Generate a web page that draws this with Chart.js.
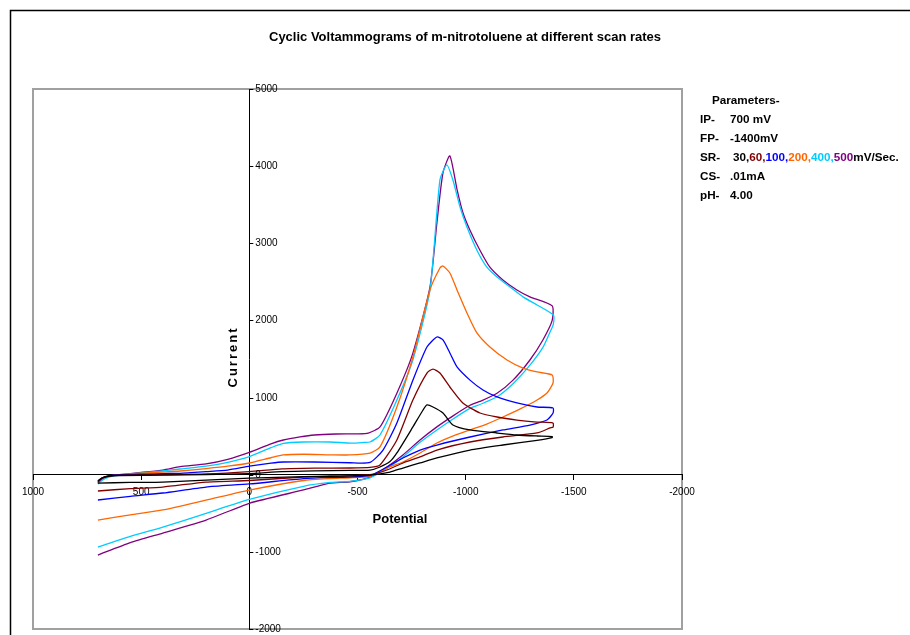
<!DOCTYPE html>
<html lang="en">
<head>
<meta charset="UTF-8">
<title>Cyclic Voltammograms</title>
<script src="https://cdn.jsdelivr.net/npm/chart.js"></script>
<style>
  body { margin: 0; background: #fff; }
  #wrap { width: 910px; height: 635px; }
</style>
</head>
<body>
<div id="wrap"><canvas id="cv" width="910" height="635"></canvas></div>
<script>
// potential (mV), current -- forward scan 700 -> -1400, then back to 700
const sr30 = [
  [700,-80],[680,-40],[650,-20],[600,-10],[400,-5],[200,0],[0,15],[-150,40],[-300,50],[-465,55],[-558,60],
  [-604,100],[-650,170],[-682,282],[-756,619],[-803,839],[-821,904],[-849,878],[-895,800],[-941,645],
  [-1020,580],[-1145,541],[-1237,515],[-1330,502],[-1400,495],
  [-1400,480],[-1330,445],[-1172,385],[-1020,320],[-867,217],[-789,152],[-710,87],[-650,35],[-558,-4],
  [-465,-15],[-373,-20],[-250,-25],[0,-45],[200,-70],[400,-95],[550,-100],[700,-108]
];
const sr60 = [
  [700,-85],[680,-40],[650,-15],[600,-5],[400,0],[200,10],[0,40],[-150,75],[-300,85],[-465,87],[-558,95],
  [-604,126],[-682,450],[-756,968],[-821,1318],[-849,1370],[-881,1318],[-927,1137],[-987,930],[-1066,800],
  [-1145,748],[-1237,709],[-1330,683],[-1404,670],
  [-1404,618],[-1390,606],[-1330,541],[-1172,489],[-1020,424],[-867,320],[-789,230],[-710,152],[-636,61],
  [-558,0],[-465,-15],[-373,-20],[-250,-30],[0,-75],[200,-95],[400,-160],[550,-180],[700,-211]
];
const sr100 = [
  [700,-95],[680,-45],[650,-15],[600,0],[400,15],[320,18],[200,40],[100,60],[0,110],[-100,150],[-157,165],
  [-300,165],[-465,155],[-558,160],[-618,320],[-682,670],[-756,1226],[-821,1656],[-867,1785],[-895,1747],
  [-927,1578],[-960,1397],[-1020,1226],[-1080,1098],[-1145,1008],[-1237,930],[-1330,878],[-1404,865],
  [-1404,800],[-1376,709],[-1297,644],[-1172,580],[-1020,489],[-867,385],[-789,320],[-710,217],[-636,100],
  [-558,-10],[-465,-30],[-373,-35],[-250,-50],[0,-120],[200,-160],[400,-237],[550,-280],[700,-328]
];
const sr200 = [
  [700,-100],[680,-50],[650,-20],[600,0],[500,20],[400,35],[320,48],[200,80],[100,110],[0,152],[-100,220],
  [-157,256],[-250,265],[-373,258],[-465,256],[-558,281],[-604,360],[-682,878],[-756,1526],[-835,2395],
  [-881,2680],[-895,2706],[-927,2615],[-960,2395],[-1006,2097],[-1052,1838],[-1112,1656],[-1191,1487],
  [-1265,1383],[-1330,1332],[-1400,1293],
  [-1404,1189],[-1376,1059],[-1330,969],[-1250,850],[-1172,748],[-1100,660],[-1020,580],[-940,500],
  [-867,411],[-789,282],[-710,165],[-636,87],[-558,-20],[-465,-40],[-373,-50],[-250,-75],[0,-200],
  [200,-330],[400,-457],[550,-520],[700,-588]
];
const sr400 = [
  [700,-120],[680,-70],[650,-30],[600,-5],[500,25],[400,50],[320,74],[200,110],[100,160],[0,235],[-100,350],
  [-157,407],[-250,424],[-373,424],[-470,410],[-530,418],[-558,424],[-604,515],[-682,968],[-756,1487],
  [-835,2395],[-881,3821],[-913,4016],[-941,3820],[-974,3470],[-1006,3210],[-1052,2910],[-1098,2690],
  [-1145,2563],[-1205,2433],[-1265,2305],[-1330,2200],[-1405,2070],
  [-1405,1950],[-1390,1850],[-1357,1650],[-1297,1420],[-1219,1180],[-1145,1010],[-1066,910],[-1020,860],
  [-940,720],[-867,580],[-789,420],[-710,230],[-636,80],[-558,-40],[-465,-85],[-373,-100],[-250,-150],
  [0,-320],[200,-500],[400,-680],[550,-800],[700,-938]
];
const sr500 = [
  [700,-110],[680,-60],[650,-20],[600,0],[500,30],[400,60],[320,104],[200,140],[100,200],[0,290],[-100,400],
  [-157,450],[-234,490],[-300,515],[-400,528],[-500,530],[-550,540],[-604,619],[-682,1057],[-756,1576],
  [-835,2433],[-867,3263],[-895,3912],[-927,4133],[-960,3700],[-987,3400],[-1020,3170],[-1066,2910],
  [-1112,2690],[-1172,2525],[-1237,2395],[-1297,2305],[-1400,2188],
  [-1400,2000],[-1357,1747],[-1297,1487],[-1219,1226],[-1145,1057],[-1066,950],[-1020,900],[-940,760],
  [-867,620],[-789,450],[-710,256],[-636,100],[-558,-30],[-465,-91],[-373,-110],[-250,-198],[0,-370],
  [200,-588],[400,-756],[550,-880],[700,-1041]
];

const scanRates = ['30', '60', '100', '200', '400', '500'];
const seriesData = [sr30, sr60, sr100, sr200, sr400, sr500];
const seriesColors = ['#000000', '#800000', '#0000ff', '#ff6600', '#00ccff', '#800080'];

const xTicks = [1000, 500, 0, -500, -1000, -1500, -2000];
const yTicks = [5000, 4000, 3000, 2000, 1000, 0, -1000, -2000];

const params = [
  ['IP-', '700 mV'],
  ['FP-', '-1400mV'],
  ['SR-', null],
  ['CS-', '.01mA'],
  ['pH-', '4.00']
];

const FONT = '"Liberation Sans", Arial, sans-serif';

// frame, plot border, title, y labels, axis titles, parameter box
const decor = {
  id: 'decor',
  beforeDraw(chart) {
    const ctx = chart.ctx;
    const a = chart.chartArea;
    ctx.save();
    ctx.fillStyle = '#fff';
    ctx.fillRect(0, 0, chart.width, chart.height);
    ctx.strokeStyle = '#000';
    ctx.lineWidth = 1.5;
    ctx.beginPath();
    ctx.moveTo(10.5, chart.height + 2);
    ctx.lineTo(10.5, 10.5);
    ctx.lineTo(chart.width + 2, 10.5);
    ctx.stroke();
    ctx.strokeStyle = '#a0a0a0';
    ctx.lineWidth = 2;
    ctx.strokeRect(a.left, a.top, a.right - a.left, a.bottom - a.top);
    ctx.restore();
  },
  afterDraw(chart) {
    const ctx = chart.ctx;
    const xs = chart.scales.x, ys = chart.scales.y;
    const x0 = xs.getPixelForValue(0);
    ctx.save();
    ctx.fillStyle = '#000';

    ctx.font = 'bold 13px ' + FONT;
    ctx.textAlign = 'center';
    ctx.textBaseline = 'middle';
    ctx.fillText('Cyclic Voltammograms of m-nitrotoluene at different scan rates', 465, 37);

    // y tick marks + labels on the right side of the axis
    ctx.font = '10px ' + FONT;
    ctx.textAlign = 'left';
    ctx.strokeStyle = '#000';
    ctx.lineWidth = 1;
    yTicks.forEach(v => {
      const py = Math.round(ys.getPixelForValue(v)) + 0.5;
      ctx.beginPath();
      ctx.moveTo(x0, py);
      ctx.lineTo(x0 + 4, py);
      ctx.stroke();
      ctx.fillText(String(v), x0 + 6, py);
    });

    ctx.font = 'bold 13px ' + FONT;
    ctx.textAlign = 'center';
    ctx.fillText('Potential', 400, 519);
    ctx.save();
    ctx.translate(233, 357);
    ctx.rotate(-Math.PI / 2);
    ctx.letterSpacing = '2px';
    ctx.fillText('Current', 0, 0);
    ctx.restore();

    ctx.font = 'bold 11.7px ' + FONT;
    ctx.textAlign = 'left';
    ctx.fillText('Parameters-', 712, 101);
    params.forEach((p, i) => {
      const y = 120 + i * 19;
      ctx.fillStyle = '#000';
      ctx.fillText(p[0], 700, y);
      if (p[1] !== null) {
        ctx.fillText(p[1], 730, y);
      } else {
        let x = 733;
        scanRates.forEach((r, j) => {
          ctx.fillStyle = j === 0 ? '#000' : seriesColors[j];
          const t = r + (j < scanRates.length - 1 ? ',' : '');
          ctx.fillText(t, x, y);
          x += ctx.measureText(t).width;
        });
        ctx.fillStyle = '#000';
        ctx.fillText('mV/Sec.', x, y);
      }
    });
    ctx.restore();
  }
};

new Chart(document.getElementById('cv'), {
  type: 'scatter',
  data: {
    datasets: seriesData.map((d, i) => ({
      label: scanRates[i] + ' mV/s',
      data: d.map(p => ({ x: p[0], y: p[1] })),
      showLine: true,
      borderColor: seriesColors[i],
      borderWidth: 1.3,
      pointRadius: 0,
      tension: 0.2,
      fill: false
    }))
  },
  options: {
    responsive: false,
    animation: false,
    layout: { padding: { left: 33, top: 89, right: 228, bottom: 6 } },
    plugins: { legend: { display: false }, tooltip: { enabled: false } },
    scales: {
      x: {
        type: 'linear', reverse: true, min: -2000, max: 1000,
        position: { y: 0 },
        afterBuildTicks: s => { s.ticks = xTicks.map(v => ({ value: v })); },
        ticks: {
          color: '#000', font: { size: 10, family: FONT }, padding: 7, maxRotation: 0, autoSkip: false,
          callback: v => String(v)
        },
        grid: { drawOnChartArea: false, drawTicks: true, tickLength: 5, color: '#000' },
        border: { display: true, color: '#000', width: 1 }
      },
      y: {
        type: 'linear', min: -2000, max: 5000,
        position: { x: 0 },
        afterBuildTicks: s => { s.ticks = yTicks.map(v => ({ value: v })); },
        ticks: { display: false },
        grid: { drawOnChartArea: false, drawTicks: false, color: '#000' },
        border: { display: true, color: '#000', width: 1 }
      }
    }
  },
  plugins: [decor]
});
</script>
</body>
</html>
